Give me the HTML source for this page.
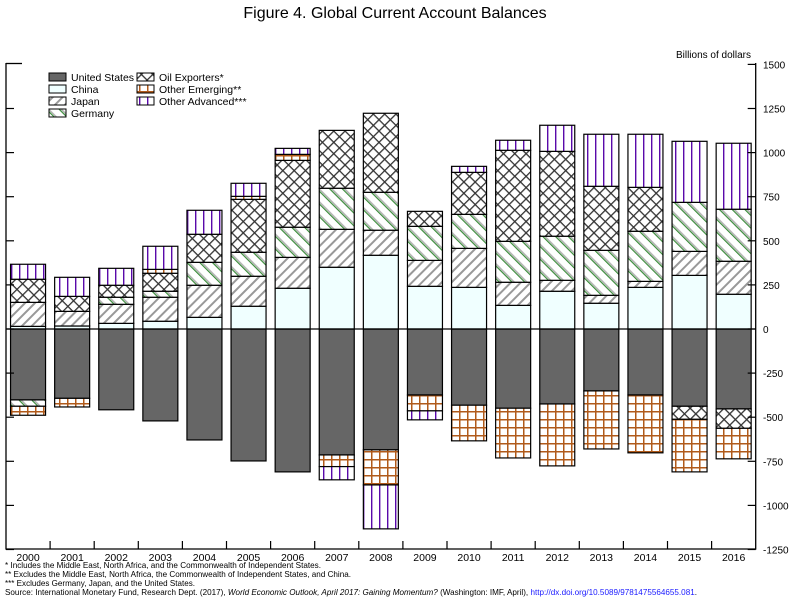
<!DOCTYPE html>
<html><head><meta charset="utf-8"><style>
body{margin:0;background:#fff;}
svg{display:block;font-family:"Liberation Sans",Arial,sans-serif;}
</style></head><body>
<svg id="chart" width="791" height="601" viewBox="0 0 791 601">
<defs>
<pattern id="pJapan" patternUnits="userSpaceOnUse" width="7" height="7" patternTransform="rotate(45)"><rect width="7" height="7" fill="#fff"/><rect x="0" y="0" width="2" height="7" fill="#999"/></pattern>
<pattern id="pGermany" patternUnits="userSpaceOnUse" width="9" height="9" patternTransform="rotate(-45)"><rect width="9" height="9" fill="#fff"/><rect x="0" y="0" width="1.2" height="9" fill="#3a8a3a"/><rect x="1.6" y="0" width="1.2" height="9" fill="#aaa"/></pattern>
<pattern id="pOil" patternUnits="userSpaceOnUse" width="8" height="8" patternTransform="rotate(45)"><rect width="8" height="8" fill="#fff"/><rect x="0" y="0" width="1.3" height="8" fill="#333"/><rect x="0" y="0" width="8" height="1.3" fill="#333"/></pattern>
<pattern id="pOE" patternUnits="userSpaceOnUse" width="8" height="8"><rect width="8" height="8" fill="#fff"/><rect x="3" y="0" width="1.5" height="8" fill="#b05a1a"/><rect x="0" y="3" width="8" height="1.5" fill="#b05a1a"/></pattern>
<pattern id="pOA" patternUnits="userSpaceOnUse" width="8" height="8"><rect width="8" height="8" fill="#fff"/><rect x="3" y="0" width="1.4" height="8" fill="#5a0aaa"/></pattern>
</defs>
<text x="395" y="18" text-anchor="middle" font-size="16">Figure 4.  Global Current Account Balances</text>
<g id="plot"></g>
<g id="legend"></g>
<g font-size="8.6" fill="#000">
<text x="5" y="568" textLength="316" lengthAdjust="spacingAndGlyphs">*   Includes the Middle East, North Africa, and the Commonwealth of Independent States.</text>
<text x="5" y="577" textLength="346" lengthAdjust="spacingAndGlyphs">**  Excludes the Middle East, North Africa, the Commonwealth of Independent States, and China.</text>
<text x="5" y="586" textLength="190" lengthAdjust="spacingAndGlyphs">*** Excludes Germany, Japan, and the United States.</text>
<text x="5" y="595" textLength="692" lengthAdjust="spacingAndGlyphs">Source:  International Monetary Fund, Research Dept. (2017), <tspan font-style="italic">World Economic Outlook, April 2017:  Gaining Momentum?</tspan> (Washington:  IMF, April), <tspan fill="#1a1aff">http://dx.doi.org/10.5089/9781475564655.081</tspan>.</text>
</g>
</svg>
<script>
const years = ['2000','2001','2002','2003','2004','2005','2006','2007','2008','2009','2010','2011','2012','2013','2014','2015','2016'];
const unitedStates = [-402,-393,-458,-521,-629,-748,-810,-714,-685,-374,-432,-449,-425,-351,-374,-438,-453];
const china = [15,17,32,44,66,129,231,350,418,242,236,134,214,146,236,304,197];
const japan = [136,83,108,136,182,170,175,215,142,147,221,131,62,45,34,136,187];
const germany = [-36,0,40,34,130,136,171,233,215,193,193,232,250,255,284,278,295];
const oilExporters = [131,85,68,102,159,300,379,328,448,85,238,516,481,363,249,-74,-110];
const otherEmerging = [-51,-49,0,22,0,17,34,-66,-199,-90,-202,-282,-351,-329,-328,-298,-173];
const otherAdvanced = [85,108,96,131,136,74,34,-75,-249,-51,34,57,148,295,301,346,374];
const yTicks = [1500,1250,1000,750,500,250,0,-250,-500,-750,-1000,-1250];

const NS='http://www.w3.org/2000/svg';
const X0=6, X1=755.7, Y0=329, PX=264.6/1500;
const slot=(X1-X0)/years.length, bw=35;
const y=v=>Y0-v*PX;
const xc=i=>X0+slot*(i+0.5);
function mk(tag,attrs,parent){const e=document.createElementNS(NS,tag);for(const k in attrs)e.setAttribute(k,attrs[k]);parent.appendChild(e);return e;}
const plot=document.getElementById('plot');
const series=[
 {name:'united-states',label:'United States',vals:unitedStates,fill:'#666666'},
 {name:'china',label:'China',vals:china,fill:'#f0ffff'},
 {name:'japan',label:'Japan',vals:japan,fill:'url(#pJapan)'},
 {name:'germany',label:'Germany',vals:germany,fill:'url(#pGermany)'},
 {name:'oil-exporters',label:'Oil Exporters*',vals:oilExporters,fill:'url(#pOil)'},
 {name:'other-emerging',label:'Other Emerging**',vals:otherEmerging,fill:'url(#pOE)'},
 {name:'other-advanced',label:'Other Advanced***',vals:otherAdvanced,fill:'url(#pOA)'}
];
years.forEach((yr,i)=>{
  let pos=0,neg=0;
  series.forEach(s=>{
    const v=s.vals[i]; if(!v) return;
    let a,b;
    if(v>0){a=pos;b=pos+v;pos=b;} else {a=neg;b=neg+v;neg=b;}
    const top=y(Math.max(a,b)), bot=y(Math.min(a,b));
    const r=mk('rect',{x:xc(i)-bw/2,y:top,width:bw,height:bot-top,fill:s.fill,stroke:'#000','stroke-width':1.2},plot);
    
    
  });
});
const ax=mk('path',{d:`M${X0},63V549H${X1}V63`,fill:'none',stroke:'#000','stroke-width':1.3},plot);


mk('line',{x1:X0,x2:X1,y1:Y0,y2:Y0,stroke:'#000','stroke-width':1.3},plot);
mk('line',{x1:X0,x2:X0+16,y1:63.5,y2:63.5,stroke:'#000','stroke-width':1.3},plot);
yTicks.forEach(t=>{
  const yy=y(t);
  if(t!==1500) mk('line',{x1:X0,x2:X0+8,y1:yy,y2:yy,stroke:'#000','stroke-width':1.2},plot);
  mk('line',{x1:X1-8,x2:X1,y1:yy,y2:yy,stroke:'#000','stroke-width':1.2},plot);
  const tx=mk('text',{x:763,y:yy+4,'font-size':10},plot);
  tx.textContent=t;
  
  
});
const yt=mk('text',{x:751,y:58,'font-size':10,'text-anchor':'end'},plot);
yt.textContent='Billions of dollars';


years.forEach((yr,i)=>{
  if(i>0){const xx=X0+slot*i;mk('line',{x1:xx,x2:xx,y1:541,y2:549,stroke:'#000','stroke-width':1.2},plot);}
  const t=mk('text',{x:xc(i),y:561,'font-size':10.5,'text-anchor':'middle'},plot);
  t.textContent=yr;
  
  
});
const lg=document.getElementById('legend');
series.forEach((s,k)=>{
  const col=k<4?0:1,row=k<4?k:k-4;
  const lx=col?137:49, ly=73+row*12;
  const r=mk('rect',{x:lx,y:ly,width:17,height:8,fill:s.fill,stroke:'#000','stroke-width':1},lg);
  
  
  const t=mk('text',{x:lx+22,y:ly+8,'font-size':10.5},lg);
  t.textContent=s.label;
  
  
});
</script>
</body></html>
